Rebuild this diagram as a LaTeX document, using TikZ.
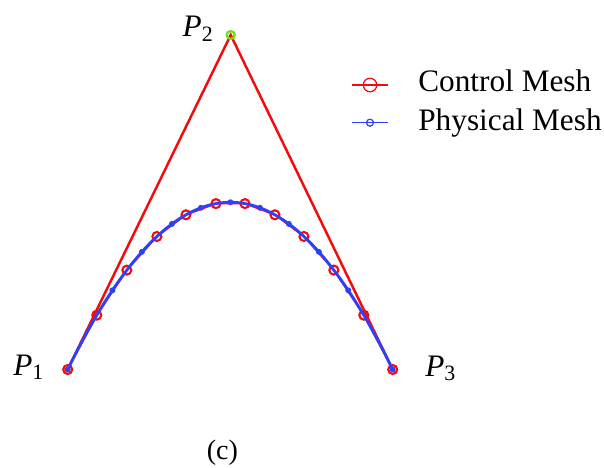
\documentclass[tikz,border=0pt]{standalone}
\usepackage{fontspec}
\setmainfont{Liberation Serif}
\usepackage{tikz}
\usetikzlibrary{calc}
\definecolor{ctrlred}{RGB}{245,10,10}
\definecolor{physblue}{RGB}{45,65,250}
\definecolor{vertexgreen}{RGB}{110,225,20}

\begin{document}
\begin{tikzpicture}[x=0.02cm, y=0.02cm, font=\fontsize{17.8}{20}\selectfont,
    ctrlpt/.style={circle, draw=ctrlred, line width=1.2pt, inner sep=0pt, minimum size=0.18cm},
    physpt/.style={circle, fill=physblue, inner sep=0pt, minimum size=0.12cm},
    lbl/.style={inner sep=0pt}]
  \useasboundingbox (0,0) rectangle (604,467);
  \coordinate (P1) at (67.7,97.5);
  \coordinate (P2) at (230.7,432);
  \coordinate (P3) at (392.7,97.5);
  \coordinate (c1) at ($(P1)!2/3!(P2)$);
  \coordinate (c2) at ($(P3)!2/3!(P2)$);
  % original control polygon
  \draw[ctrlred, line width=1.4pt] (P1) -- (P2) -- (P3);
  % refined control mesh
  \node[ctrlpt] (r0) at (P1) {};
  \node[ctrlpt] (r11) at (P3) {};
  \foreach \t [count=\i] in {0.0892,0.1815,0.2738,0.3631,0.4554,0.5446,0.6369,0.7262,0.8185,0.9108}
    \path (P1) .. controls (c1) and (c2) .. (P3) node[ctrlpt, pos=\t] (r\i) {};
  \draw[ctrlred, line width=1pt] (r0.center) foreach \i in {1,...,11} {-- (r\i.center)};
  % physical mesh
  \draw[physblue, line width=1.6pt] (P1) .. controls (c1) and (c2) .. (P3);
  \foreach \t [count=\i] in {0,0.1372,0.2277,0.32,0.4092,0.5,0.5908,0.68,0.7723,0.8628,1}
    \path (P1) .. controls (c1) and (c2) .. (P3) node[physpt, pos=\t] (q\i) {};
  \node[circle, draw=vertexgreen, line width=1.3pt, inner sep=0pt, minimum size=0.16cm] (v2) at (P2) {};
  % labels
  \node[lbl, anchor=base west] (l1) at (13,92) {\itshape P\textsubscript{\upshape 1}};
  \node[lbl, anchor=base east] (l2) at (214,430.5) {\itshape P\textsubscript{\upshape 2}};
  \node[lbl, anchor=base west] (l3) at (425,91) {\itshape P\textsubscript{\upshape 3}};
  % legend
  \node[circle, draw=ctrlred, line width=0.7pt, inner sep=0pt, minimum size=0.27cm] (legc) at (370,382) {};
  \draw[ctrlred, line width=0.7pt] (legc.center) ++(-18,0) -- ++(36,0);
  \node[circle, draw=physblue, line width=0.7pt, inner sep=0pt, minimum size=0.14cm] (legp) at (370,344.3) {};
  \draw[physblue, line width=0.7pt] (legp.center) ++(-18,0) -- ++(36,0);
  \node[lbl, anchor=base west] (legctext) at (418,375.3) {Control Mesh};
  \node[lbl, anchor=base west] (legptext) at (418,337) {Physical Mesh};
  \node[lbl, anchor=base, font=\fontsize{16}{18}\selectfont] (cap) at (222.4,8) {(c)};
\end{tikzpicture}
\end{document}
